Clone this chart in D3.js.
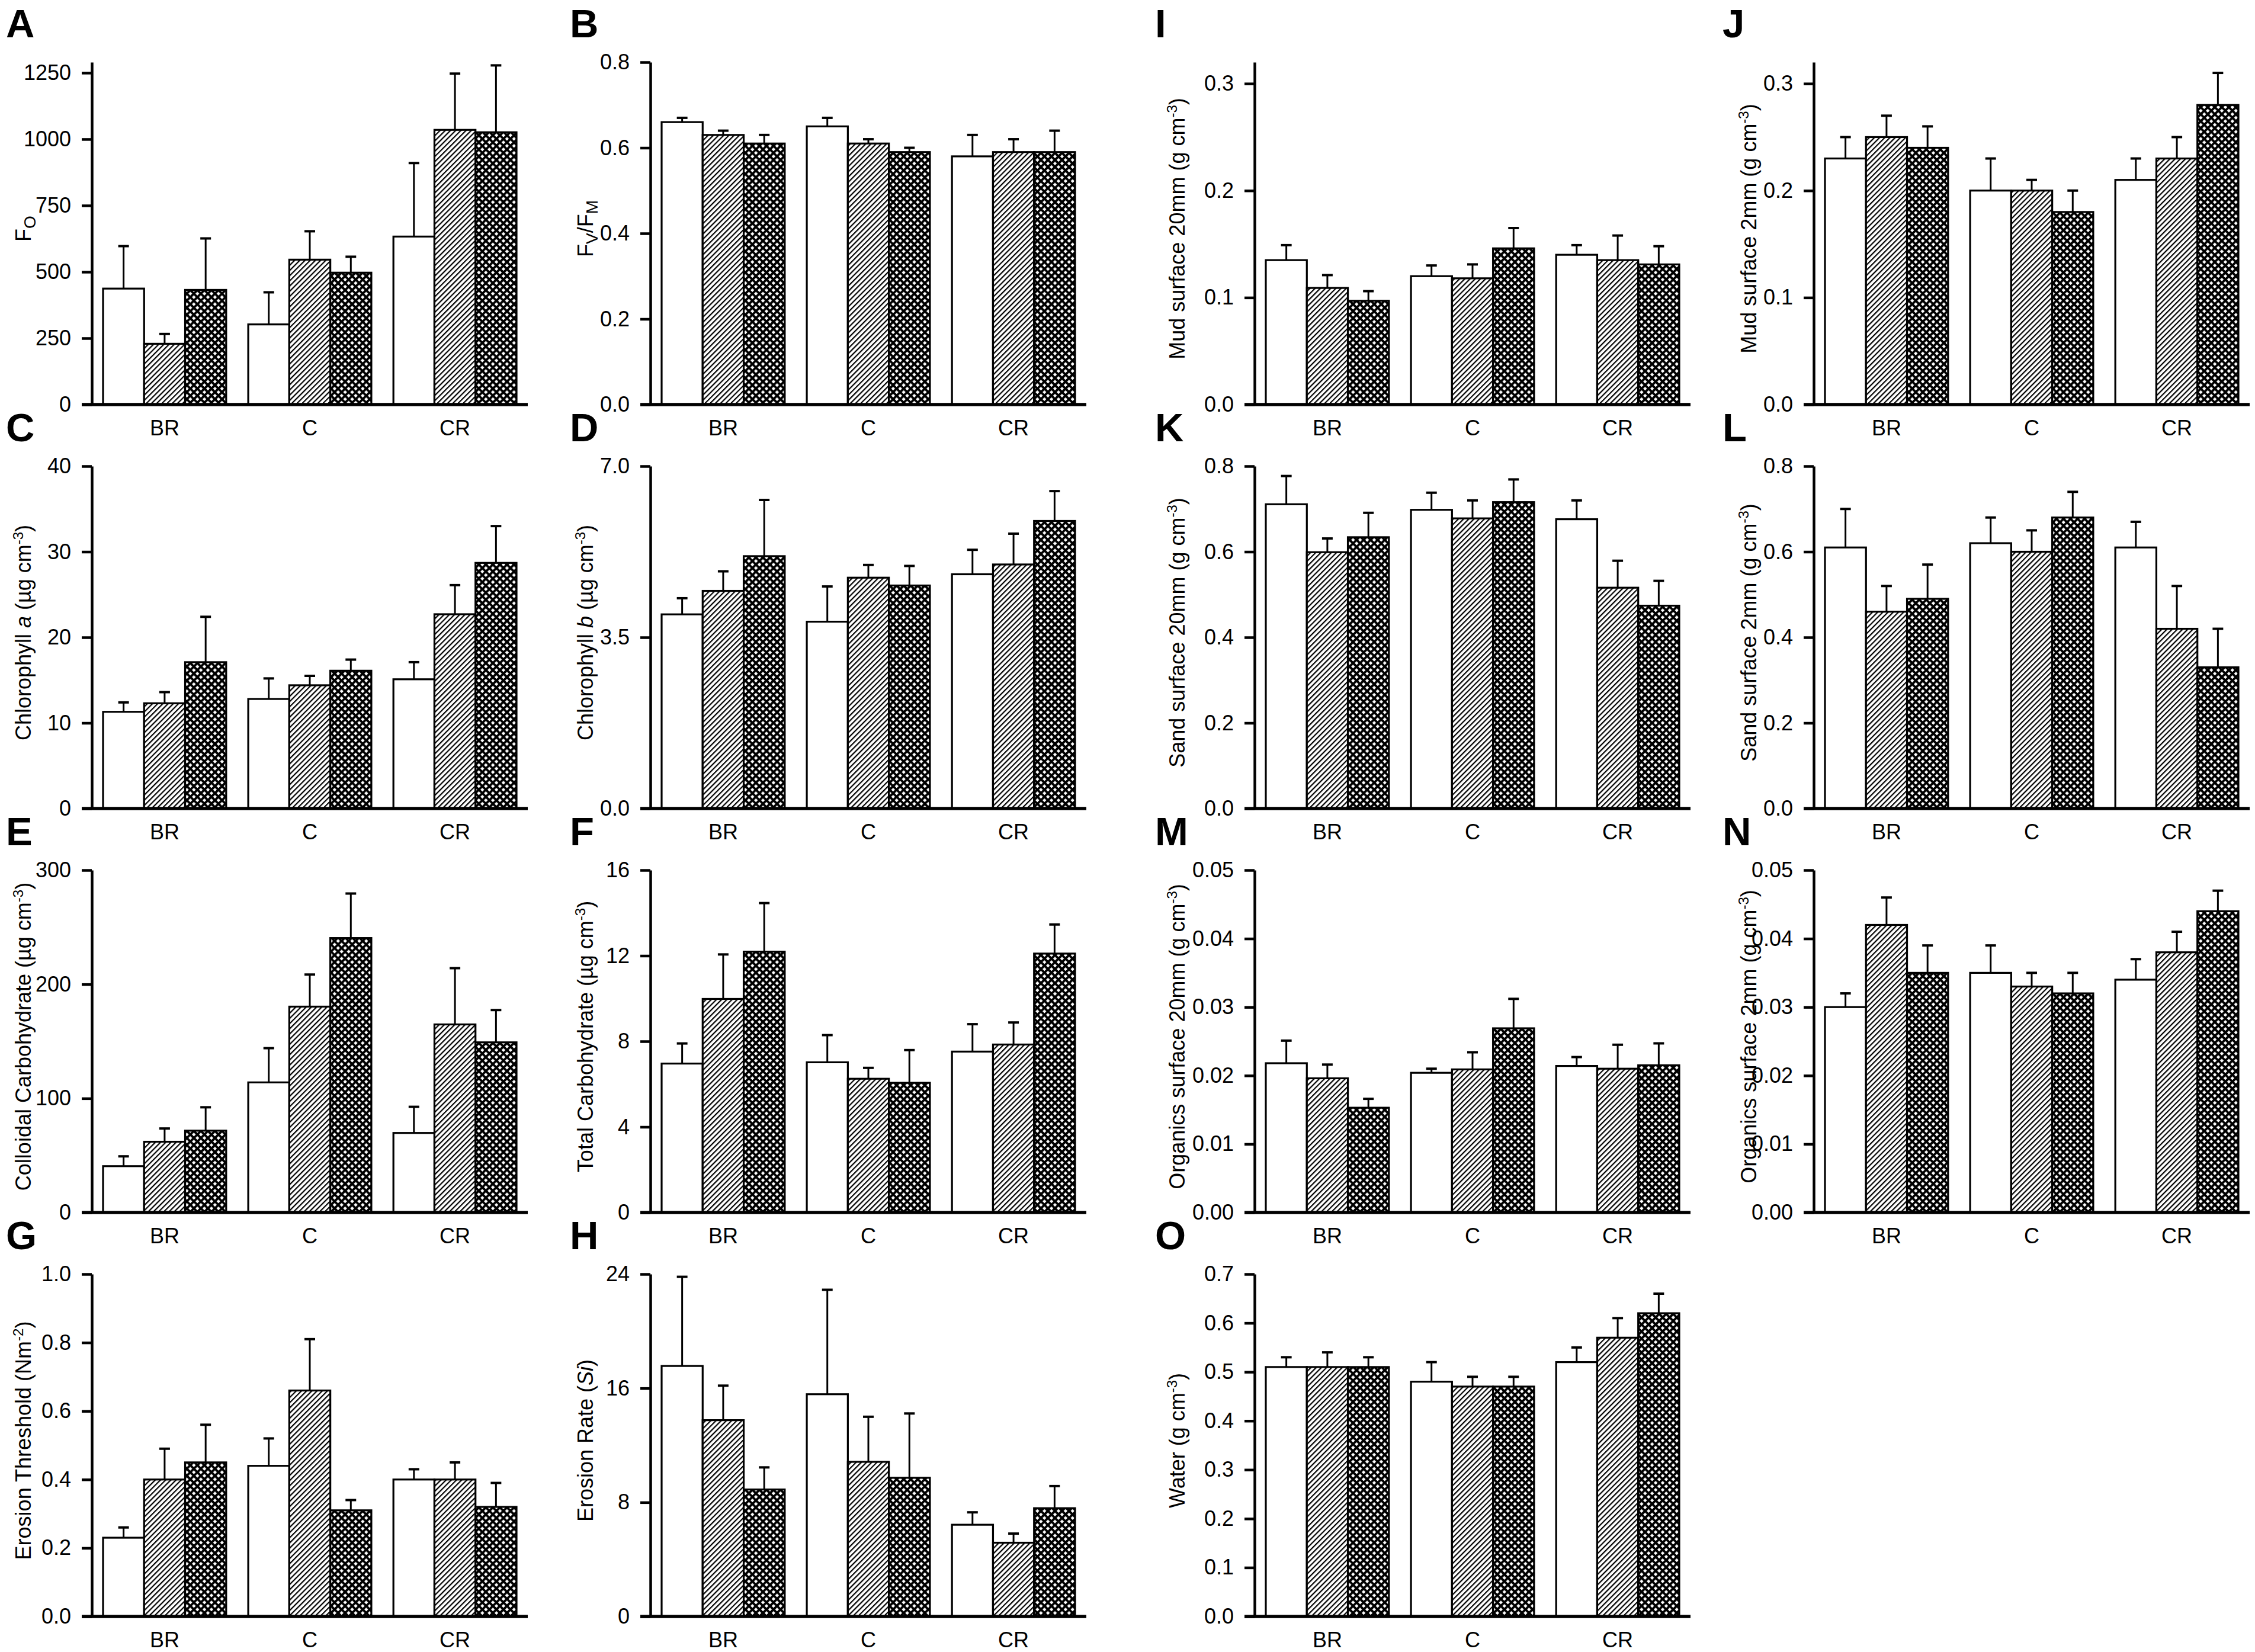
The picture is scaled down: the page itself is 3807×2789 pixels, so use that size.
<!DOCTYPE html>
<html>
<head>
<meta charset="utf-8">
<script src="https://cdn.jsdelivr.net/npm/d3@7"></script>
<style>
  body { margin: 0; background: #fff; }
  svg { display: block; font-family: "Liberation Sans", Arial, Helvetica, sans-serif; }
</style>
</head>
<body>
<div id="chart"></div>
<script>
(function () {
    'use strict';
    var W = 3807, H = 2789;

    // sites on the x axis, three treatments per site
    var sites = ["BR", "C", "CR"];
    var treatments = ["open", "hatched", "cross"];

    // means [site][treatment] and standard errors
    var foMean = [[437, 229, 432], [302, 546, 497], [633, 1035, 1026]];
    var foSe   = [[160, 37, 194], [121, 107, 60], [277, 212, 252]];
    var fvfmMean = [[0.66, 0.63, 0.61], [0.65, 0.61, 0.59], [0.58, 0.59, 0.59]];
    var fvfmSe   = [[0.01, 0.01, 0.02], [0.02, 0.01, 0.01], [0.05, 0.03, 0.05]];
    var chlaMean = [[11.3, 12.3, 17.1], [12.8, 14.4, 16.1], [15.1, 22.7, 28.7]];
    var chlaSe   = [[1.1, 1.3, 5.3], [2.4, 1.1, 1.3], [2.0, 3.4, 4.3]];
    var chlbMean = [[3.97, 4.45, 5.16], [3.82, 4.72, 4.56], [4.79, 4.99, 5.88]];
    var chlbSe   = [[0.33, 0.40, 1.15], [0.72, 0.26, 0.40], [0.50, 0.63, 0.61]];
    var collMean = [[40.6, 62.0, 71.7], [114.0, 180.4, 240.5], [69.7, 164.8, 149.1]];
    var collSe   = [[8.6, 11.6, 20.5], [30.0, 28.1, 39.0], [22.9, 49.3, 28.3]];
    var totMean = [[6.96, 9.98, 12.19], [7.02, 6.25, 6.06], [7.52, 7.85, 12.10]];
    var totSe   = [[0.94, 2.08, 2.27], [1.27, 0.51, 1.53], [1.28, 1.03, 1.36]];
    var thrMean = [[0.23, 0.40, 0.45], [0.44, 0.66, 0.31], [0.40, 0.40, 0.32]];
    var thrSe   = [[0.03, 0.09, 0.11], [0.08, 0.15, 0.03], [0.03, 0.05, 0.07]];
    var rateMean = [[17.56, 13.76, 8.90], [15.58, 10.84, 9.72], [6.43, 5.17, 7.59]];
    var rateSe   = [[6.25, 2.42, 1.55], [7.32, 3.16, 4.51], [0.87, 0.64, 1.55]];
    var mud20Mean = [[0.135, 0.109, 0.097], [0.120, 0.118, 0.146], [0.140, 0.135, 0.131]];
    var mud20Se   = [[0.014, 0.012, 0.009], [0.010, 0.013, 0.019], [0.009, 0.023, 0.017]];
    var mud2Mean = [[0.23, 0.25, 0.24], [0.20, 0.20, 0.18], [0.21, 0.23, 0.28]];
    var mud2Se   = [[0.02, 0.02, 0.02], [0.03, 0.01, 0.02], [0.02, 0.02, 0.03]];
    var sand20Mean = [[0.711, 0.599, 0.634], [0.698, 0.678, 0.716], [0.676, 0.516, 0.474]];
    var sand20Se   = [[0.066, 0.032, 0.057], [0.040, 0.042, 0.053], [0.044, 0.063, 0.058]];
    var sand2Mean = [[0.61, 0.46, 0.49], [0.62, 0.60, 0.68], [0.61, 0.42, 0.33]];
    var sand2Se   = [[0.09, 0.06, 0.08], [0.06, 0.05, 0.06], [0.06, 0.10, 0.09]];
    var org20Mean = [[0.0218, 0.0196, 0.0153], [0.0204, 0.0209, 0.0269], [0.0214, 0.0210, 0.0215]];
    var org20Se   = [[0.0033, 0.0020, 0.0013], [0.0006, 0.0025, 0.0043], [0.0013, 0.0035, 0.0032]];
    var org2Mean = [[0.030, 0.042, 0.035], [0.035, 0.033, 0.032], [0.034, 0.038, 0.044]];
    var org2Se   = [[0.002, 0.004, 0.004], [0.004, 0.002, 0.003], [0.003, 0.003, 0.003]];
    var waterMean = [[0.51, 0.51, 0.51], [0.48, 0.47, 0.47], [0.52, 0.57, 0.62]];
    var waterSe   = [[0.02, 0.03, 0.02], [0.04, 0.02, 0.02], [0.03, 0.04, 0.04]];

    // tick labels
    var foTicks = [0, 250, 500, 750, 1000, 1250];
    var fvfmTicks = [0, 0.2, 0.4, 0.6, 0.8];
    var chlaTicks = [0, 10, 20, 30, 40];
    var chlbTicks = [0, 3.5, 7];
    var collTicks = [0, 100, 200, 300];
    var totTicks = [0, 4, 8, 12, 16];
    var thrTicks = [0, 0.2, 0.4, 0.6, 0.8, 1.0];
    var rateTicks = [0, 8, 16, 24];
    var mudTicks = [0, 0.1, 0.2, 0.3];
    var sandTicks = [0, 0.2, 0.4, 0.6, 0.8];
    var orgTicks = [0, 0.01, 0.02, 0.03, 0.04, 0.05];
    var waterTicks = [0, 0.1, 0.2, 0.3, 0.4, 0.5, 0.6, 0.7];

    // axis titles as [text, kind] runs
    var gcm = [["(g cm", ""], ["-3", "sup"], [")", ""]];
    var ugcm = [["(\u00b5g cm", ""], ["-3", "sup"], [")", ""]];

    var panels = [
        {id: "A", col: 0, row: 0, mean: foMean, se: foSe, max: 1290, ticks: foTicks, fmt: "d",
            title: [["F", ""], ["O", "sub"]]},
        {id: "B", col: 1, row: 0, mean: fvfmMean, se: fvfmSe, max: 0.8, ticks: fvfmTicks, fmt: ".1f",
            title: [["F", ""], ["V", "sub"], ["/F", ""], ["M", "sub"]]},
        {id: "C", col: 0, row: 1, mean: chlaMean, se: chlaSe, max: 40, ticks: chlaTicks, fmt: "d",
            title: [["Chlorophyll ", ""], ["a", "i"], [" ", ""]].concat(ugcm)},
        {id: "D", col: 1, row: 1, mean: chlbMean, se: chlbSe, max: 7, ticks: chlbTicks, fmt: ".1f",
            title: [["Chlorophyll ", ""], ["b", "i"], [" ", ""]].concat(ugcm)},
        {id: "E", col: 0, row: 2, mean: collMean, se: collSe, max: 300, ticks: collTicks, fmt: "d",
            title: [["Colloidal Carbohydrate ", ""]].concat(ugcm)},
        {id: "F", col: 1, row: 2, mean: totMean, se: totSe, max: 16, ticks: totTicks, fmt: "d",
            title: [["Total Carbohydrate ", ""]].concat(ugcm)},
        {id: "G", col: 0, row: 3, mean: thrMean, se: thrSe, max: 1.0, ticks: thrTicks, fmt: ".1f",
            title: [["Erosion Threshold (Nm", ""], ["-2", "sup"], [")", ""]]},
        {id: "H", col: 1, row: 3, mean: rateMean, se: rateSe, max: 24, ticks: rateTicks, fmt: "d",
            title: [["Erosion Rate (", ""], ["Si", "i"], [")", ""]]},
        {id: "I", col: 2, row: 0, mean: mud20Mean, se: mud20Se, max: 0.32, ticks: mudTicks, fmt: ".1f",
            title: [["Mud surface 20mm ", ""]].concat(gcm)},
        {id: "J", col: 3, row: 0, mean: mud2Mean, se: mud2Se, max: 0.32, ticks: mudTicks, fmt: ".1f",
            title: [["Mud surface 2mm ", ""]].concat(gcm)},
        {id: "K", col: 2, row: 1, mean: sand20Mean, se: sand20Se, max: 0.8, ticks: sandTicks, fmt: ".1f",
            title: [["Sand surface 20mm ", ""]].concat(gcm)},
        {id: "L", col: 3, row: 1, mean: sand2Mean, se: sand2Se, max: 0.8, ticks: sandTicks, fmt: ".1f",
            title: [["Sand surface 2mm ", ""]].concat(gcm)},
        {id: "M", col: 2, row: 2, mean: org20Mean, se: org20Se, max: 0.05, ticks: orgTicks, fmt: ".2f",
            title: [["Organics surface 20mm ", ""]].concat(gcm)},
        {id: "N", col: 3, row: 2, mean: org2Mean, se: org2Se, max: 0.05, ticks: orgTicks, fmt: ".2f",
            title: [["Organics surface 2mm ", ""]].concat(gcm)},
        {id: "O", col: 2, row: 3, mean: waterMean, se: waterSe, max: 0.7, ticks: waterTicks, fmt: ".1f",
            title: [["Water ", ""]].concat(gcm)}
    ];

    // layout
    var axisX = [155, 1098, 2118, 3062];
    var letterX = [10, 962, 1950, 2908];
    var titleOff = [116, 110, 131, 110];
    var plotW = 736, plotH = 578, rowStep = 682, firstBase = 683;
    var tickLen = 17;
    var fills = {open: "#fff", hatched: "url(#hatch)", cross: "url(#cross)"};

    var svg = d3.select("#chart")
        .append("svg")
        .attr("width", W)
        .attr("height", H);

    svg.append("rect").attr("width", W).attr("height", H).attr("fill", "#fff");

    // fill patterns: single diagonal hatch and dense cross hatch
    var defs = svg.append("defs");
    var hatch = defs.append("pattern")
        .attr("id", "hatch")
        .attr("patternUnits", "userSpaceOnUse")
        .attr("width", 6.2).attr("height", 6.2)
        .attr("patternTransform", "rotate(45)");
    hatch.append("rect").attr("width", 6.2).attr("height", 6.2).attr("fill", "#fff");
    hatch.append("rect").attr("width", 2.2).attr("height", 6.2).attr("fill", "#000");

    var cross = defs.append("pattern")
        .attr("id", "cross")
        .attr("patternUnits", "userSpaceOnUse")
        .attr("width", 8.4).attr("height", 8.4)
        .attr("patternTransform", "rotate(45)");
    cross.append("rect").attr("width", 8.4).attr("height", 8.4).attr("fill", "#000");
    cross.append("rect").attr("x", 3.9).attr("y", 3.9).attr("width", 4.5).attr("height", 4.5).attr("fill", "#fff");

    function addRuns(text, runs) {
        var shift = 0;
        runs.forEach(function (r) {
            var t = text.append("tspan").text(r[0]);
            var want = 0;
            if (r[1] === "sup") {
                t.style("font-size", "24px");
                want = -13;
            } else if (r[1] === "sub") {
                t.style("font-size", "28px");
                want = 8;
            } else if (r[1] === "i") {
                t.style("font-style", "italic");
            }
            if (want !== shift) {
                t.attr("dy", (want - shift) + "px");
                shift = want;
            }
        });
    }

    panels.forEach(function (p) {
        var base = firstBase + rowStep * p.row;
        var top = base - plotH;
        var ax = axisX[p.col];

        var y = d3.scaleLinear().domain([0, p.max]).range([base, top]);
        var x0 = d3.scaleBand().domain(sites).range([0, plotW])
            .paddingInner(0.152).paddingOuter(0.0775);
        var x1 = d3.scaleBand().domain(treatments).range([0, x0.bandwidth()]);

        var g = svg.append("g").attr("transform", "translate(" + ax + ",0)");

        var rows = [];
        sites.forEach(function (s, i) {
            treatments.forEach(function (t, j) {
                rows.push({site: s, trt: t, m: p.mean[i][j], e: p.se[i][j]});
            });
        });

        // bars
        g.selectAll("rect.bar")
            .data(rows)
            .enter()
            .append("rect")
            .attr("class", "bar")
            .attr("x", function (d) { return x0(d.site) + x1(d.trt); })
            .attr("y", function (d) { return y(d.m); })
            .attr("width", x1.bandwidth())
            .attr("height", function (d) { return y(0) - y(d.m); })
            .attr("fill", function (d) { return fills[d.trt]; })
            .attr("stroke", "#000")
            .attr("stroke-width", 3.2);

        // upper error bars
        var eb = g.selectAll("g.err")
            .data(rows)
            .enter()
            .append("g")
            .attr("class", "err")
            .attr("transform", function (d) {
                return "translate(" + (x0(d.site) + x1(d.trt) + x1.bandwidth() / 2) + ",0)";
            });
        eb.append("line")
            .attr("y1", function (d) { return y(d.m); })
            .attr("y2", function (d) { return y(d.m + d.e); })
            .attr("stroke", "#000")
            .attr("stroke-width", 3);
        eb.append("line")
            .attr("x1", -9).attr("x2", 9)
            .attr("y1", function (d) { return y(d.m + d.e); })
            .attr("y2", function (d) { return y(d.m + d.e); })
            .attr("stroke", "#000")
            .attr("stroke-width", 4);

        // y axis
        var yAxis = g.append("g")
            .call(d3.axisLeft(y)
                .tickValues(p.ticks)
                .tickFormat(d3.format(p.fmt))
                .tickSize(tickLen)
                .tickSizeOuter(0)
                .tickPadding(18));
        yAxis.select(".domain").attr("stroke-width", 4.5);
        yAxis.selectAll(".tick line").attr("stroke-width", 4.5);
        yAxis.selectAll(".tick text")
            .attr("font-family", null)
            .attr("font-size", null)
            .style("font-size", "36px")
            .attr("fill", "#000");

        // x axis
        var xAxis = g.append("g")
            .attr("transform", "translate(0," + base + ")")
            .call(d3.axisBottom(x0).tickSize(0).tickPadding(26));
        xAxis.select(".domain").remove();
        xAxis.selectAll(".tick text")
            .attr("font-family", null)
            .attr("font-size", null)
            .style("font-size", "36px")
            .attr("fill", "#000");
        g.append("line")
            .attr("x1", -tickLen).attr("x2", plotW)
            .attr("y1", base).attr("y2", base)
            .attr("stroke", "#000")
            .attr("stroke-width", 5.5);

        // y title
        var title = g.append("text")
            .attr("transform", "translate(" + (-titleOff[p.col]) + "," + ((base + top) / 2 - 8) + ") rotate(-90)")
            .attr("text-anchor", "middle")
            .attr("dy", "0.35em")
            .style("font-size", "36px")
            .attr("fill", "#000");
        addRuns(title, p.title);

        // panel letter
        svg.append("text")
            .attr("x", letterX[p.col])
            .attr("y", top - 42)
            .style("font-size", "67px")
            .style("font-weight", "bold")
            .attr("fill", "#000")
            .text(p.id);
    });
}());
</script>
</body>
</html>
